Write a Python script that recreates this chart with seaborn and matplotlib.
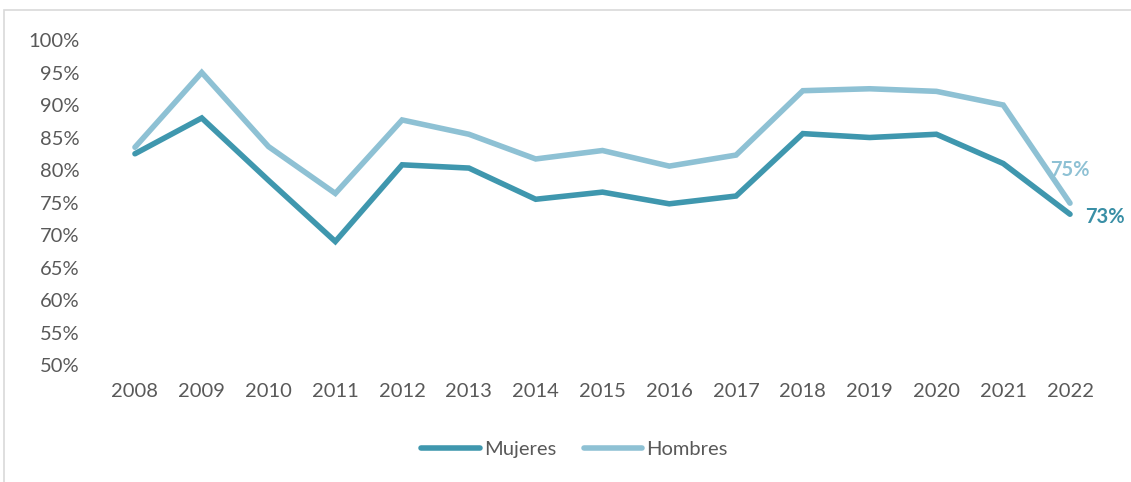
import matplotlib
matplotlib.use("Agg")
import matplotlib.pyplot as plt
import seaborn as sns
import pandas as pd
from matplotlib.patches import Rectangle
from matplotlib.ticker import FuncFormatter
from matplotlib.lines import Line2D

years = [2008, 2009, 2010, 2011, 2012, 2013, 2014, 2015, 2016, 2017, 2018, 2019, 2020, 2021, 2022]
mujeres = [82.5, 88.0, 78.4, 69.0, 80.8, 80.3, 75.5, 76.6, 74.8, 76.0, 85.6, 85.0, 85.5, 81.0, 73.2]
hombres = [83.5, 95.0, 83.6, 76.4, 87.7, 85.5, 81.7, 83.0, 80.6, 82.3, 92.2, 92.5, 92.1, 90.0, 74.9]
series_names = ["Mujeres", "Hombres"]
end_labels = ["73%", "75%"]

sns.set_style("white")
plt.rcParams["font.family"] = ["Lato", "DejaVu Sans"]

df = pd.DataFrame({
    "pos": list(range(len(years))) * 2,
    "value": mujeres + hombres,
    "serie": [series_names[0]] * len(years) + [series_names[1]] * len(years),
})

colors = {"Mujeres": "#3F97AE", "Hombres": "#8EC1D4"}
text_color = "#595959"

fig = plt.figure(figsize=(11.31, 4.82), dpi=100)
ax = fig.add_axes([0.0898, 0.2427, 0.8858, 0.6743])

sns.lineplot(data=df, x="pos", y="value", hue="serie", palette=colors,
             hue_order=series_names, linewidth=4, ax=ax, legend=False,
             solid_capstyle="round", solid_joinstyle="miter")

ax.set_xlim(-0.5, len(years) - 0.5)
ax.set_ylim(50, 100)
ax.set_xticks(range(len(years)))
ax.set_xticklabels([str(y) for y in years])
ax.set_yticks(range(50, 101, 5))
ax.yaxis.set_major_formatter(FuncFormatter(lambda v, p: f"{int(v)}%"))
ax.tick_params(axis="both", labelsize=14.5, colors=text_color, length=0)
ax.tick_params(axis="x", pad=13)
ax.tick_params(axis="y", pad=16)
for s in ax.spines.values():
    s.set_visible(False)
ax.set_xlabel("")
ax.set_ylabel("")

# end labels
last = len(years) - 1
ax.annotate(end_labels[0], xy=(last, mujeres[-1]), xytext=(11, -2), textcoords="offset points",
            color="#3A8FA6", fontsize=14.5, fontweight="bold", ha="left", va="center")
ax.annotate(end_labels[1], xy=(last, hombres[-1]), xytext=(0, 24), textcoords="offset points",
            color="#8EC1D4", fontsize=14.5, fontweight="bold", ha="center", va="center")

# legend
handles = [Line2D([0], [0], color=colors[n], lw=4, solid_capstyle="round") for n in series_names]
leg = fig.legend(handles, series_names, loc="center", bbox_to_anchor=(0.508, 0.068), ncol=2,
                 frameon=False, fontsize=14.5, handlelength=2.9, columnspacing=1.4, handletextpad=0.2)
for t in leg.get_texts():
    t.set_color(text_color)

# outer frame
fig.patches.append(Rectangle((4 / 1131, -0.01), 1.02, 1 - 10 / 482 + 0.01, transform=fig.transFigure,
                             fill=False, edgecolor="#D9D9D9", linewidth=1.2))

fig.savefig("out.png", dpi=100)
